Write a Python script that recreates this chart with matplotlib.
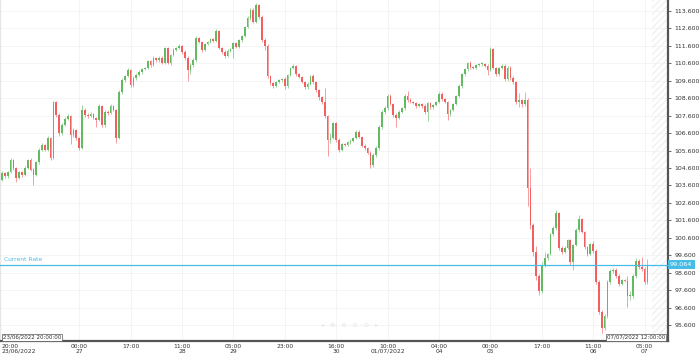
import matplotlib
matplotlib.use("Agg")
import matplotlib.pyplot as plt
import numpy as np

# hourly candles, 23/06/2022 20:00 -> 07/07/2022
first_open = 103.91
closes = [
    104.31, 104.14, 104.37, 105.06, 104.60, 104.02, 104.37, 104.20, 104.60, 105.06,
    104.48, 104.20, 104.94, 105.63, 105.92, 105.63, 106.32, 105.17, 108.38, 107.64,
    106.60, 107.06, 107.41, 107.58, 106.49, 106.78, 106.32, 105.74, 107.92, 107.64,
    107.58, 107.69, 107.47, 107.35, 108.15, 107.06, 107.81, 107.75, 108.15, 107.92,
    106.32, 108.96, 109.64, 109.87, 110.22, 109.36, 109.76, 109.93, 110.10, 110.27,
    110.33, 110.73, 110.50, 110.91, 110.79, 110.91, 110.62, 111.48, 110.62, 111.08,
    111.36, 111.48, 111.59, 111.25, 110.91, 110.22, 110.50, 110.79, 112.05, 111.82,
    111.36, 111.71, 111.82, 111.99, 111.88, 112.45, 111.48, 111.25, 111.02, 111.31,
    111.42, 111.77, 111.54, 111.94, 112.17, 112.68, 113.20, 113.66, 112.97, 113.94,
    113.26, 111.94, 111.59, 109.87, 109.47, 109.30, 109.53, 109.64, 109.70, 109.30,
    109.93, 110.33, 110.45, 109.99, 109.82, 109.53, 109.22, 109.42, 109.87, 109.53,
    109.07, 108.67, 108.38, 107.58, 106.20, 106.32, 107.18, 106.20, 105.63, 105.97,
    105.92, 106.09, 106.15, 106.32, 106.66, 106.37, 105.86, 105.74, 105.46, 104.77,
    105.34, 105.74, 106.95, 107.81, 108.04, 108.73, 108.27, 107.64, 107.47, 107.81,
    108.04, 108.73, 108.50, 108.38, 108.32, 108.15, 108.27, 108.15, 107.81, 108.32,
    108.09, 108.21, 108.38, 108.84, 108.55, 108.38, 107.69, 107.92, 108.27, 108.73,
    109.30, 109.99, 110.27, 110.62, 110.39, 110.33, 110.50, 110.56, 110.56, 110.45,
    110.22, 111.42, 110.33, 109.99, 110.33, 110.45, 109.70, 110.33, 109.76, 109.53,
    108.38, 108.50, 108.27, 108.50, 103.45, 101.33, 99.78, 98.40, 97.55, 99.04,
    99.44, 99.67, 100.81, 101.16, 102.02, 100.01, 99.78, 100.01, 100.47, 99.21,
    100.18, 101.04, 101.67, 100.93, 100.07, 99.67, 100.24, 99.84, 98.06, 96.34,
    95.42, 96.11, 98.06, 98.69, 98.75, 98.40, 97.95, 98.18, 98.12, 97.26,
    97.26, 98.40, 99.27, 98.92, 98.81, 98.06, 99.064,
]
highs = [
    104.40, 104.35, 104.45, 105.15, 105.10, 104.65, 104.45, 104.40, 104.70, 105.12,
    105.15, 104.60, 105.00, 105.75, 106.05, 106.00, 106.45, 106.40, 108.45, 108.45,
    107.75, 107.15, 107.50, 107.70, 107.65, 106.90, 106.85, 106.40, 108.20, 108.05,
    107.75, 107.80, 107.75, 107.55, 108.25, 108.20, 107.90, 107.90, 108.25, 108.20,
    108.00, 109.05, 109.75, 109.95, 110.35, 110.30, 109.85, 110.05, 110.20, 110.35,
    110.40, 110.80, 110.80, 111.00, 110.98, 111.00, 111.00, 111.55, 111.55, 111.15,
    111.45, 111.55, 111.70, 111.65, 111.35, 111.00, 110.60, 110.90, 112.15, 112.12,
    111.90, 111.78, 111.90, 112.05, 112.05, 112.55, 112.50, 111.55, 111.35, 111.40,
    111.50, 111.85, 111.85, 112.00, 112.25, 112.75, 113.30, 113.75, 113.80, 114.05,
    114.00, 113.35, 112.05, 111.70, 109.95, 109.55, 109.60, 109.70, 109.78, 109.80,
    110.00, 110.40, 110.55, 110.50, 110.05, 109.90, 109.60, 109.55, 109.95, 110.00,
    109.60, 109.15, 108.75, 109.20, 107.65, 106.60, 107.25, 107.25, 106.30, 106.05,
    106.05, 106.15, 106.25, 106.40, 106.75, 106.75, 106.45, 105.95, 105.80, 105.55,
    105.45, 105.85, 107.05, 107.90, 108.15, 108.85, 108.85, 108.35, 107.75, 107.90,
    108.10, 108.85, 109.00, 108.60, 108.45, 108.40, 108.35, 108.35, 108.25, 108.40,
    108.40, 108.25, 108.45, 108.95, 108.95, 108.60, 108.45, 108.00, 108.35, 108.80,
    109.40, 110.05, 110.35, 110.70, 110.75, 110.45, 110.58, 110.62, 110.65, 110.62,
    110.55, 111.55, 111.50, 110.40, 110.40, 110.55, 110.55, 110.45, 110.45, 109.85,
    109.60, 108.90, 108.55, 108.95, 108.60, 104.60, 101.45, 100.10, 98.55, 99.20,
    99.80, 99.75, 100.90, 101.25, 102.20, 102.05, 100.10, 100.15, 100.55, 100.55,
    100.25, 101.15, 101.90, 101.75, 101.00, 100.15, 100.30, 100.40, 99.95, 98.15,
    96.45, 96.20, 98.15, 98.80, 98.85, 98.85, 98.50, 98.25, 98.25, 98.40,
    97.55, 98.50, 99.45, 99.40, 99.50, 98.90, 99.40,
]
lows = [
    103.85, 104.05, 104.05, 104.30, 104.50, 103.80, 103.95, 104.10, 104.12, 104.55,
    104.40, 103.65, 104.15, 104.85, 105.55, 105.55, 105.55, 105.05, 105.10, 107.50,
    106.45, 106.50, 107.00, 107.35, 105.95, 106.40, 106.20, 105.65, 105.70, 107.55,
    107.45, 107.50, 107.40, 106.95, 107.30, 106.95, 106.95, 107.65, 107.70, 107.85,
    106.05, 106.25, 108.85, 109.55, 109.80, 109.25, 109.25, 109.65, 109.85, 110.00,
    110.20, 110.25, 110.40, 110.45, 110.70, 110.70, 110.55, 110.55, 110.55, 110.50,
    111.00, 111.30, 111.40, 111.15, 110.80, 109.60, 110.00, 110.40, 110.70, 111.75,
    111.25, 111.30, 111.65, 111.75, 111.80, 111.80, 111.40, 111.15, 110.90, 110.95,
    111.25, 110.90, 111.45, 111.45, 111.85, 112.10, 112.60, 113.10, 112.90, 112.90,
    113.15, 111.85, 111.35, 109.75, 109.35, 109.20, 109.22, 109.45, 109.55, 109.15,
    109.20, 109.85, 110.25, 109.90, 109.75, 109.45, 109.15, 109.10, 109.35, 109.40,
    108.95, 108.50, 108.25, 107.45, 105.30, 106.05, 106.25, 106.10, 105.50, 105.55,
    105.85, 105.85, 106.00, 106.10, 106.25, 106.30, 105.80, 105.65, 105.40, 104.60,
    104.65, 105.25, 105.65, 106.85, 107.70, 107.95, 108.20, 107.55, 106.95, 107.40,
    107.75, 107.95, 108.40, 108.30, 108.25, 108.05, 108.10, 108.05, 107.70, 107.30,
    108.00, 108.00, 108.15, 108.30, 108.45, 108.30, 107.35, 107.60, 107.85, 108.20,
    108.65, 109.20, 109.90, 110.15, 110.30, 110.25, 110.25, 110.45, 110.45, 110.38,
    109.95, 110.15, 110.25, 109.90, 109.90, 110.25, 109.60, 109.60, 109.65, 109.40,
    108.25, 108.10, 108.10, 108.15, 102.40, 101.10, 99.55, 98.20, 97.30, 97.45,
    98.95, 99.35, 99.60, 100.70, 101.05, 99.90, 99.65, 99.70, 99.95, 99.05,
    98.75, 100.10, 100.95, 100.85, 99.95, 99.55, 99.60, 99.75, 97.95, 96.20,
    95.15, 95.30, 96.00, 97.95, 98.60, 98.30, 97.85, 97.90, 98.05, 96.65,
    97.05, 97.15, 98.30, 98.80, 98.70, 97.95, 97.95,
]
opens = [first_open] + closes[:-1]

tick_pos = [0, 27, 45, 63, 81, 99, 117, 135, 153, 171, 189, 207, 225]
tick_labels = ["20:00\n23/06/2022", "00:00\n27", "17:00", "11:00\n28", "05:00\n29",
               "23:00", "16:00\n30", "10:00\n01/07/2022", "04:00\n04", "00:00\n05",
               "17:00", "11:00\n06", "05:00\n07"]
price_ticks = [95.6, 96.6, 97.6, 98.6, 99.6, 100.6, 101.6, 102.6, 103.6, 104.6,
               105.6, 106.6, 107.6, 108.6, 109.6, 110.6, 111.6, 112.6, 113.6]
current_rate = 99.064
start_label = "23/06/2022 20:00:00"
end_label = "07/07/2022 12:00:00"

up_col = "#62bb62"
down_col = "#f25f60"
cyan = "#45bde6"

fig = plt.figure(figsize=(6.99, 3.55), dpi=100)
ax = fig.add_axes([0.0, 0.0394, 0.9557, 0.9606])

x = np.arange(len(closes))
o = np.array(opens)
c = np.array(closes)
cols = [up_col if cc >= oo else down_col for oo, cc in zip(o, c)]
ax.vlines(x, lows, highs, colors=cols, linewidth=0.5, alpha=0.85, zorder=3)
bottom = np.minimum(o, c)
height = np.maximum(np.abs(c - o), 0.04)
ax.bar(x, height, bottom=bottom, width=0.6, color=cols, linewidth=0, zorder=4)

ax.set_xlim(-0.7, 233.2)
ax.set_ylim(94.68, 114.23)

# grid
for p in price_ticks:
    ax.axhline(p, color="#f2f2f2", linewidth=0.6, zorder=0)
for t in tick_pos[1:]:
    ax.axvline(t, color="#f2f2f2", linewidth=0.6, zorder=0)

# future zone
ax.axvspan(227.6, 233.2, facecolor="none", edgecolor="#f1f1f1", hatch="/////",
           linewidth=0, zorder=0)

# current rate
ax.axhline(current_rate, color=cyan, linewidth=0.9, zorder=5)
ax.text(0.8, current_rate + 0.12, "Current Rate", color=cyan, fontsize=4.3,
        ha="left", va="bottom", zorder=6)
ax.text(1.003, current_rate, "%.3f" % current_rate, transform=ax.get_yaxis_transform(),
        color="white", fontsize=4.6, ha="left", va="center", zorder=7, clip_on=False,
        bbox=dict(boxstyle="square,pad=0.35", facecolor=cyan, edgecolor="none"))

# axes styling
ax.yaxis.tick_right()
ax.set_yticks(price_ticks)
ax.set_yticklabels(["%.3f" % p for p in price_ticks])
ax.tick_params(axis="y", labelsize=4.5, labelcolor="#333333", length=2.5, width=0.6,
               color="#555555", pad=2)
ax.set_xticks(tick_pos)
ax.set_xticklabels(tick_labels)
ax.tick_params(axis="x", labelsize=4.3, labelcolor="#333333", length=0, pad=2)
for lbl in ax.get_xticklabels():
    lbl.set_linespacing(0.95)
ax.get_xticklabels()[0].set_horizontalalignment("left")
ax.spines["top"].set_visible(False)
ax.spines["left"].set_color("#e6e6e6")
ax.spines["left"].set_linewidth(1.0)
ax.spines["right"].set_color("#555555")
ax.spines["right"].set_linewidth(1.6)
ax.spines["bottom"].set_color("#555555")
ax.spines["bottom"].set_linewidth(1.6)

# range boxes at the bottom
ax.text(0.004, 0.003, start_label, transform=ax.transAxes, fontsize=4.0,
        color="#333333", ha="left", va="bottom", zorder=7,
        bbox=dict(boxstyle="square,pad=0.15", facecolor="white", edgecolor="#555555",
                  linewidth=0.5))
ax.text(0.996, 0.003, end_label, transform=ax.transAxes, fontsize=4.0,
        color="#333333", ha="right", va="bottom", zorder=7,
        bbox=dict(boxstyle="square,pad=0.15", facecolor="white", edgecolor="#555555",
                  linewidth=0.5))

# faint navigation icons
ax.text(0.524, 0.045, "\u25c2   \u2295   \u2296   \u2299   \u2299   \u25b8",
        transform=ax.transAxes, fontsize=4.5, color="#e6e6e6", ha="center",
        va="center", zorder=6)

fig.savefig("out.png", dpi=100)
